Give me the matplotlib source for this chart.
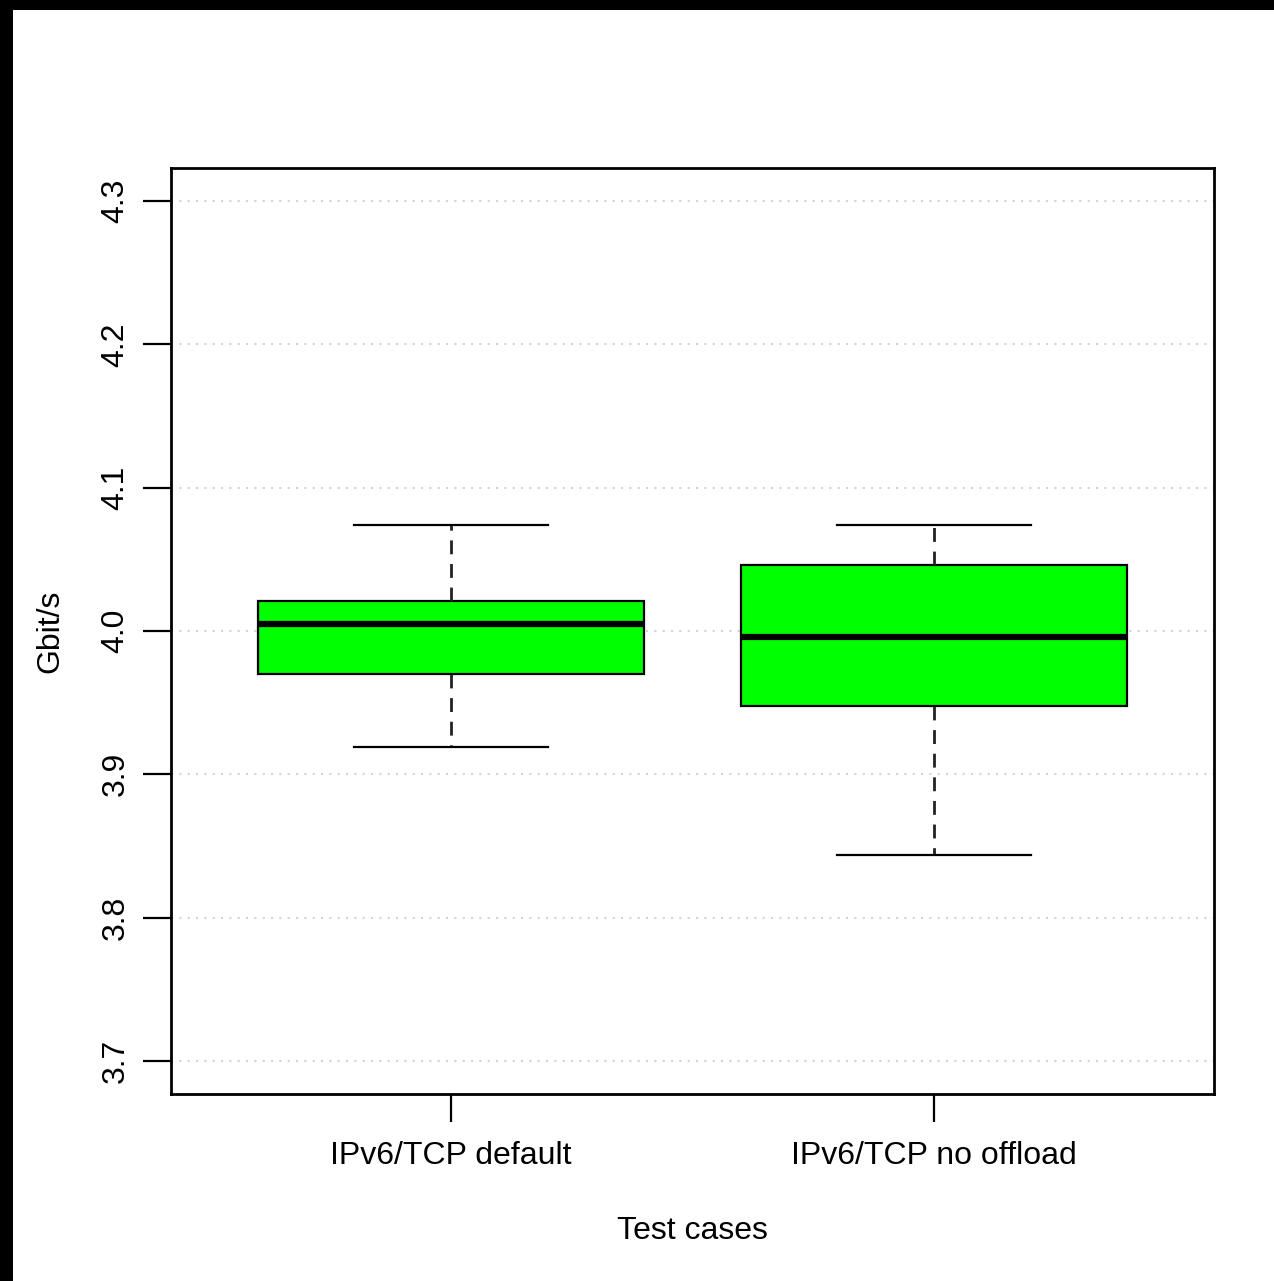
import matplotlib
matplotlib.use('Agg')
import matplotlib.pyplot as plt
from matplotlib.patches import Rectangle

# data
cases = ['IPv6/TCP default', 'IPv6/TCP no offload']
whislo = [3.919, 3.844]
q1 = [3.970, 3.948]
med = [4.005, 3.996]
q3 = [4.021, 4.046]
whishi = [4.074, 4.074]
yticks = [3.7, 3.8, 3.9, 4.0, 4.1, 4.2, 4.3]

plt.rcParams['font.family'] = ['Liberation Sans', 'DejaVu Sans']

fig = plt.figure(figsize=(12.74, 12.81), dpi=100, facecolor='black')
# white page with a black strip at the top and left
fig.patches.append(Rectangle((13 / 1274, 0), 1, 1 - 10 / 1281, transform=fig.transFigure,
                             facecolor='white', edgecolor='none', zorder=-10))

ax = fig.add_axes([171 / 1274, 1 - 1094 / 1281, 1043 / 1274, 926 / 1281])
ax.set_zorder(5)
ax.set_facecolor('none')

stats = []
for i in range(len(cases)):
    stats.append({'label': cases[i], 'whislo': whislo[i], 'q1': q1[i], 'med': med[i],
                  'q3': q3[i], 'whishi': whishi[i], 'fliers': []})

ax.bxp(stats, positions=[1, 2], widths=0.8, patch_artist=True, showfliers=False,
       boxprops=dict(facecolor='#00ff00', edgecolor='black', linewidth=1.6),
       medianprops=dict(color='black', linewidth=4.5, solid_capstyle='butt'),
       whiskerprops=dict(color='#222222', linewidth=2, linestyle=(0, (5, 3.5))),
       capprops=dict(color='black', linewidth=1.6), capwidths=0.4, zorder=3)

for y in yticks:
    ax.axhline(y, color='#d3d3d3', linestyle=(0, (1, 3)), linewidth=1.5, zorder=1)

ax.set_xlim(0.42, 2.58)
ax.set_ylim(3.677, 4.323)
ax.set_yticks(yticks)
ax.set_yticklabels([f'{v:.1f}' for v in yticks], rotation=90, va='center')
ax.set_xticks([1, 2])
ax.set_xticklabels(cases)
ax.tick_params(axis='both', labelsize=23, length=20, width=1.6, colors='black')
ax.tick_params(axis='y', pad=9)
ax.tick_params(axis='x', pad=14)

for s in ax.spines.values():
    s.set_linewidth(2)

fig.text(692 / 1274, 1 - 1231 / 1281, 'Test cases', fontsize=23, ha='center', va='center')
fig.text(50 / 1274, 1 - 631 / 1281, 'Gbit/s', fontsize=23, ha='center', va='center', rotation=90)

plt.savefig('out.png', dpi=100, facecolor='black')
